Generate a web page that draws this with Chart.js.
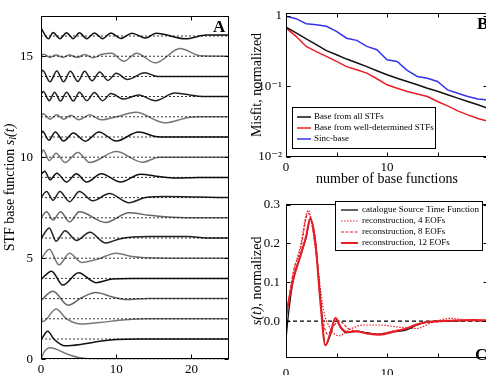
<!DOCTYPE html>
<html>
<head>
<meta charset="utf-8">
<script src="https://cdn.jsdelivr.net/npm/chart.js@4.4.0/dist/chart.umd.min.js"></script>
<style>
  html, body { margin: 0; padding: 0; background: #fff; overflow: hidden; }
  #wrap { position: relative; width: 486px; height: 375px; overflow: hidden; }
  canvas { position: absolute; }
</style>
</head>
<body>
<div id="wrap">
  <canvas id="chartA" width="240" height="375" style="left:0;top:0"></canvas>
  <canvas id="chartB" width="260" height="190" style="left:245px;top:0"></canvas>
  <canvas id="chartC" width="260" height="185" style="left:245px;top:190px"></canvas>
</div>
<script>
// ---- panel A: STF base functions, [time, amplitude] read at the turning points
const stf0 = [[0, 0], [0.4, 0.35], [1.2, 0.57], [2, 0.5], [3, 0.33], [4, 0.18], [5, 0.08], [6, 0.03], [7, 0.01], [8, 0], [25, 0]];
const stf1 = [[0, -0.05], [0.9, 0.38], [1.7, 0], [3.2, -0.34], [5.6, -0.25], [7.8, -0.11], [10, -0.03], [13, 0], [25, 0]];
const stf2 = [[0, -0.05], [0.3, -0.13], [2.0, 0.49], [3.4, 0], [5.4, -0.26], [7.8, -0.18], [11.3, -0.05], [14.3, 0], [25, 0]];
const stf3 = [[0, -0.08], [1.6, 0.36], [3.6, -0.33], [5.4, 0.05], [7.3, 0.3], [9.5, 0.08], [11.3, -0.05], [14.3, 0], [25, 0]];
const stf4 = [[0, -0.05], [1.4, 0.36], [2.9, -0.33], [5.0, 0.28], [7.3, -0.21], [9.5, -0.03], [12, 0], [25, 0]];
const stf5 = [[0, -0.05], [1.1, 0.44], [2.4, -0.33], [3.8, 0.25], [5.4, -0.21], [7.5, -0.05], [10, 0.25], [12.1, 0.08], [14.3, 0.02], [17, 0], [25, 0]];
const stf6 = [[0, -0.05], [1.1, 0.5], [2.0, -0.16], [3.2, 0.36], [4.7, -0.12], [6.5, 0.28], [8.6, -0.25], [10.4, -0.05], [14.3, 0.07], [19.6, 0.07], [22, 0], [25, 0]];
const stf7 = [[0, 0], [0.75, 0.3], [1.6, -0.11], [2.6, 0.3], [3.8, -0.2], [5.1, 0.3], [8.6, -0.23], [11.7, 0.25], [14.3, 0.13], [16.5, 0.05], [20, 0], [25, 0]];
const stf8 = [[0, 0], [0.75, 0.3], [1.6, -0.13], [2.5, 0.3], [3.8, -0.2], [5.1, 0.3], [6.9, -0.16], [9.1, 0.2], [11.7, -0.25], [13.9, 0], [16.5, 0.05], [21, 0.03], [25, 0]];
const stf9 = [[0, 0.15], [0.5, 0.3], [1.2, -0.12], [2.1, 0.21], [3.4, -0.23], [4.7, 0.18], [6.1, -0.23], [8.0, 0.18], [10.6, -0.23], [13.2, 0.16], [15.7, 0.04], [17.9, -0.03], [21, 0], [25, 0]];
const stf10 = [[0, 0.1], [0.3, 0.36], [1.1, -0.16], [2.0, 0.2], [3.2, -0.26], [4.9, 0.23], [6.5, -0.26], [10, 0.28], [13.5, -0.25], [15.7, 0], [25, 0]];
const stf11 = [[0, 0.1], [0.2, 0.28], [1.05, -0.16], [1.9, 0.25], [3.0, -0.2], [4.3, 0.2], [5.9, -0.21], [7.7, 0.25], [10, -0.2], [13, 0.25], [15.2, 0.03], [17, 0], [25, 0]];
const stf12 = [[0, 0.05], [0.3, 0.15], [1.2, -0.12], [2.1, 0.1], [3.0, -0.12], [4.0, 0.08], [5.0, -0.15], [6.5, 0.1], [8.0, -0.15], [10, 0], [12.6, 0.22], [16.5, -0.3], [19.6, -0.03], [21, 0], [25, 0]];
const stf13 = [[0, 0.1], [0.3, 0.25], [1.1, -0.2], [1.8, 0.22], [2.6, -0.22], [3.4, 0.22], [4.3, -0.22], [5.1, 0.22], [6.1, -0.2], [7.1, 0.2], [8.2, -0.2], [9.3, 0.15], [11, -0.12], [13, 0.08], [15.2, -0.2], [17.8, 0.18], [21, 0.02], [25, 0]];
const stf14 = [[0, 0.1], [0.2, 0.3], [1.2, -0.27], [2.1, 0.27], [3.0, -0.27], [3.9, 0.25], [4.9, -0.25], [5.8, 0.25], [6.8, -0.22], [7.8, 0.22], [8.9, -0.2], [10, 0.15], [11.5, -0.15], [13.8, 0.18], [15.5, 0], [25, 0]];
const stf15 = [[0, 0.05], [0.4, 0.1], [1.2, -0.06], [2.0, 0.06], [2.9, -0.06], [3.8, 0.06], [4.8, -0.06], [5.8, 0.08], [6.9, -0.08], [8.0, 0.08], [9.4, 0.15], [11, -0.25], [12.7, 0.15], [15.2, -0.33], [18.5, 0.38], [21.2, 0.02], [25, 0]];
const stf16 = [[0, 0.4], [1.0, -0.13], [1.6, 0.17], [2.5, -0.13], [3.4, 0.16], [4.3, -0.13], [5.1, 0.16], [6.1, -0.13], [7.1, 0.15], [8.2, -0.13], [9.3, 0.15], [10.6, -0.12], [12.1, 0.14], [13.9, -0.1], [15.3, 0.14], [19.2, -0.14], [22, 0.05], [25, 0.05]];
const stfCurves = [stf0, stf1, stf2, stf3, stf4, stf5, stf6, stf7, stf8, stf9, stf10, stf11, stf12, stf13, stf14, stf15, stf16];
const timeRangeA = [0, 25];
const xTicksA = [0, 10, 20];
const yTicksA = [0, 5, 10, 15];

// ---- panel B: misfit vs number of base functions
const nBase = [0, 1, 2, 3, 4, 5, 6, 7, 8, 9, 10, 11, 12, 13, 14, 15, 16, 17, 18, 19, 20];
const misfitAll = [0.69, 0.57, 0.47, 0.39, 0.32, 0.28, 0.243, 0.215, 0.19, 0.166, 0.146, 0.13, 0.117, 0.105, 0.094, 0.085, 0.076, 0.068, 0.061, 0.055, 0.049];
const misfitWell = [0.67, 0.51, 0.367, 0.31, 0.265, 0.225, 0.19, 0.172, 0.154, 0.128, 0.105, 0.094, 0.0845, 0.078, 0.0718, 0.061, 0.053, 0.045, 0.0394, 0.035, 0.032];
const misfitSinc = [0.98, 0.906, 0.77, 0.745, 0.706, 0.6, 0.48, 0.447, 0.367, 0.33, 0.238, 0.225, 0.168, 0.138, 0.13, 0.117, 0.089, 0.08, 0.072, 0.066, 0.064];
const xTicksB = [0, 5, 10, 15, 20];
const xLabelsB = ['0', '', '10', '', ''];
const yTicksB = [0.01, 0.1, 1];
const yLabelsB = ['10\u207B\u00B2', '10\u207B\u00B9', '1'];

// ---- panel C: source time function and its reconstructions, [time, s(t)]
const catalogueStf = [[0, -0.047], [0.25, 0.02], [0.75, 0.11], [1.4, 0.167], [2.0, 0.215], [2.4, 0.262], [2.9, 0.208], [3.4, 0.06], [3.9, -0.063], [4.4, -0.035], [4.9, 0.007], [5.4, -0.017], [6.0, -0.03], [7.0, -0.026], [8.0, -0.03], [9.3, -0.034], [10.7, -0.027], [11.5, -0.025], [12, -0.022], [13, -0.01], [14, -0.002], [16, 0], [18.6, 0.002], [20, 0]];
const recon4 = [[0, 0.008], [0.75, 0.125], [1.4, 0.19], [2.2, 0.285], [3.0, 0.17], [3.7, 0.03], [4.3, -0.015], [5.2, -0.038], [6.4, -0.02], [7.7, -0.01], [9.3, -0.01], [11, -0.015], [12.9, -0.019], [14.6, -0.002], [16.3, 0.007], [18.6, 0], [20, 0.002]];
const recon8 = [[0, 0.005], [0.75, 0.13], [1.4, 0.18], [2.2, 0.278], [3.0, 0.17], [3.5, 0.03], [4.1, -0.033], [4.8, -0.01], [5.3, 0], [6.2, -0.02], [7.5, -0.028], [9, -0.033], [10.7, -0.025], [12, -0.018], [13.5, -0.006], [15, -0.002], [17, 0.002], [20, 0.001]];
const recon12 = [[0, 0.015], [0.25, 0.05], [0.75, 0.11], [1.4, 0.165], [2.0, 0.22], [2.4, 0.265], [2.9, 0.205], [3.4, 0.05], [3.9, -0.062], [4.4, -0.03], [4.9, 0.008], [5.4, -0.015], [6.0, -0.028], [7.0, -0.027], [8.0, -0.032], [9.3, -0.035], [10.7, -0.027], [12, -0.018], [13, -0.008], [14, -0.002], [16, 0.001], [18.6, 0.003], [20, 0.002]];
const timeRangeC = [0, 20];
const xTicksC = [0, 5, 10, 15, 20];
const xLabelsC = ['0', '', '10', '', ''];
const yTicksC = [0, 0.1, 0.2, 0.3];

const SERIF = '"Liberation Serif", "DejaVu Serif", serif';
const RED = 'rgb(236, 28, 36)';
const BLUE = 'rgb(52, 52, 238)';
const stfShade = ['#777', '#111', '#777', '#666', '#111', '#777', '#222', '#666', '#222', '#111', '#777', '#111', '#777', '#222', '#222', '#777', '#111'];

const toXY = (pairs, shift = 0) => pairs.map(([t, v]) => ({ x: t, y: shift + v }));
const setTicks = vals => scale => { scale.ticks = vals.map(v => ({ value: v })); };

// frame, inward ticks, panel letter, rotated y title and boxed legend
const framePlugin = {
  id: 'frame',
  afterDatasetsDraw(chart, args, opts) {
    const { ctx, chartArea: a, scales: { x, y } } = chart;
    ctx.save();
    ctx.strokeStyle = '#000';
    ctx.lineWidth = 1;
    ctx.setLineDash([]);
    const L = Math.round(a.left) + 0.5, T = Math.round(a.top) + 0.5;
    const R = Math.round(a.right) - 0.5, B = Math.round(a.bottom) - 0.5;
    ctx.strokeRect(L, T, R - L, B - T);
    const len = 4;
    ctx.beginPath();
    x.ticks.forEach(t => {
      const px = Math.round(x.getPixelForValue(t.value)) + 0.5;
      ctx.moveTo(px, B); ctx.lineTo(px, B - len);
      ctx.moveTo(px, T); ctx.lineTo(px, T + len);
    });
    y.ticks.forEach(t => {
      const py = Math.round(y.getPixelForValue(t.value)) + 0.5;
      ctx.moveTo(L, py); ctx.lineTo(L + len, py);
      ctx.moveTo(R, py); ctx.lineTo(R - len, py);
    });
    ctx.stroke();

    if (opts.legend) {
      const lg = opts.legend;
      ctx.fillStyle = '#fff';
      ctx.fillRect(lg.x, lg.y, lg.w, lg.h);
      ctx.strokeRect(lg.x + 0.5, lg.y + 0.5, lg.w, lg.h);
      ctx.font = '9px ' + SERIF;
      ctx.textBaseline = 'middle';
      ctx.textAlign = 'left';
      chart.data.datasets.filter(d => d.label).forEach((d, i) => {
        const yy = lg.y + lg.row0 + i * lg.rowH;
        ctx.strokeStyle = d.borderColor;
        ctx.lineWidth = d.borderWidth;
        ctx.setLineDash(d.borderDash || []);
        ctx.beginPath();
        ctx.moveTo(lg.x + lg.line0, yy);
        ctx.lineTo(lg.x + lg.line1, yy);
        ctx.stroke();
        ctx.fillStyle = '#000';
        ctx.fillText(d.label, lg.x + lg.text, yy);
      });
      ctx.setLineDash([]);
    }

    if (opts.letter) {
      ctx.fillStyle = '#000';
      ctx.font = 'bold 17px ' + SERIF;
      ctx.textAlign = 'left';
      ctx.textBaseline = 'alphabetic';
      ctx.fillText(opts.letter.text, a.right + opts.letter.dx, a.top + opts.letter.dy);
    }

    if (opts.yTitle) {
      const cy = (a.top + a.bottom) / 2;
      ctx.translate(opts.yTitle.x, cy);
      ctx.rotate(-Math.PI / 2);
      ctx.textBaseline = 'middle';
      ctx.textAlign = 'left';
      ctx.fillStyle = '#000';
      let total = 0;
      opts.yTitle.parts.forEach(p => { ctx.font = p.font; total += ctx.measureText(p.text).width; });
      let xx = -total / 2;
      opts.yTitle.parts.forEach(p => {
        ctx.font = p.font;
        ctx.fillText(p.text, xx, p.dy || 0);
        xx += ctx.measureText(p.text).width;
      });
    }
    ctx.restore();
  }
};

const tickFont = { family: SERIF, size: 13 };
const baseOptions = {
  responsive: false,
  animation: false,
  events: [],
  plugins: { legend: { display: false }, tooltip: { enabled: false } },
  elements: { point: { radius: 0 }, line: { tension: 0 } }
};
const plainGrid = { display: false, drawTicks: false };

// ---- panel A
const datasetsA = [];
stfCurves.forEach((c, k) => {
  datasetsA.push({
    data: timeRangeA.map(t => ({ x: t, y: k })),
    borderColor: '#000', borderWidth: 0.8, borderDash: [2, 2]
  });
  datasetsA.push({
    data: toXY(c, k),
    borderColor: stfShade[k], borderWidth: 1.5, cubicInterpolationMode: 'monotone'
  });
});

new Chart(document.getElementById('chartA'), {
  type: 'line',
  data: { datasets: datasetsA },
  options: {
    ...baseOptions,
    layout: { padding: { top: 10, right: 11, left: 0, bottom: 0 } },
    scales: {
      x: {
        type: 'linear', min: timeRangeA[0], max: timeRangeA[1],
        grid: plainGrid, border: { display: false },
        ticks: { font: tickFont, color: '#000', padding: 3, maxRotation: 0 },
        afterBuildTicks: setTicks(xTicksA),
        afterFit(s) { s.height = 15; }
      },
      y: {
        min: 0, max: 17,
        grid: plainGrid, border: { display: false },
        ticks: { font: tickFont, color: '#000', padding: 8 },
        afterBuildTicks: setTicks(yTicksA),
        afterFit(s) { s.width = 41; }
      }
    },
    plugins: {
      ...baseOptions.plugins,
      frame: {
        letter: { text: 'A', dx: -16, dy: 16 },
        yTitle: {
          x: 10,
          parts: [
            { text: 'STF base function ', font: '14px ' + SERIF },
            { text: 's', font: 'italic 14px ' + SERIF },
            { text: 'l', font: 'italic 10px ' + SERIF, dy: 3 },
            { text: '(t)', font: 'italic 14px ' + SERIF }
          ]
        }
      }
    }
  },
  plugins: [framePlugin]
});

// ---- panel B
new Chart(document.getElementById('chartB'), {
  type: 'line',
  data: {
    datasets: [
      { label: 'Base from all STFs', data: nBase.map((n, i) => ({ x: n, y: misfitAll[i] })), borderColor: '#111', borderWidth: 1.5 },
      { label: 'Base from well-determined STFs', data: nBase.map((n, i) => ({ x: n, y: misfitWell[i] })), borderColor: RED, borderWidth: 1.5 },
      { label: 'Sinc-base', data: nBase.map((n, i) => ({ x: n, y: misfitSinc[i] })), borderColor: BLUE, borderWidth: 1.5 }
    ]
  },
  options: {
    ...baseOptions,
    layout: { padding: { top: 13, right: 17, left: 0, bottom: 0 } },
    scales: {
      x: {
        type: 'linear', min: 0, max: 20,
        grid: plainGrid, border: { display: false },
        ticks: { font: tickFont, color: '#000', padding: 3, maxRotation: 0,
          callback: v => xLabelsB[xTicksB.indexOf(v)] },
        afterBuildTicks: setTicks(xTicksB),
        title: { display: true, text: 'number of base functions', color: '#000',
          font: { family: SERIF, size: 14 }, padding: { top: 0, bottom: 2 } },
        afterFit(s) { s.height = 33; }
      },
      y: {
        type: 'logarithmic', min: 0.01, max: 1.09,
        grid: plainGrid, border: { display: false },
        ticks: { font: tickFont, color: '#000', padding: 4,
          callback: v => yLabelsB[yTicksB.indexOf(v)] },
        afterBuildTicks: setTicks(yTicksB),
        afterFit(s) { s.width = 41; }
      }
    },
    plugins: {
      ...baseOptions.plugins,
      frame: {
        letter: { text: 'B', dx: -11, dy: 16 },
        legend: { x: 47, y: 107, w: 143, h: 41, row0: 10, rowH: 11, line0: 5, line1: 19, text: 22 },
        yTitle: { x: 12, parts: [{ text: 'Misfit, normalized', font: '14px ' + SERIF }] }
      }
    }
  },
  plugins: [framePlugin]
});

// ---- panel C
new Chart(document.getElementById('chartC'), {
  type: 'line',
  data: {
    datasets: [
      { label: 'catalogue Source Time Function', data: toXY(catalogueStf), borderColor: '#111', borderWidth: 1.3, order: 2, cubicInterpolationMode: 'monotone' },
      { label: 'reconstruction, 4 EOFs', data: toXY(recon4), borderColor: RED, borderWidth: 1.2, borderDash: [1.5, 1.5], order: 4, cubicInterpolationMode: 'monotone' },
      { label: 'reconstruction, 8 EOFs', data: toXY(recon8), borderColor: RED, borderWidth: 1.2, borderDash: [3, 1.5], order: 3, cubicInterpolationMode: 'monotone' },
      { label: 'reconstruction, 12 EOFs', data: toXY(recon12), borderColor: RED, borderWidth: 2, order: 1, cubicInterpolationMode: 'monotone' },
      { data: timeRangeC.map(t => ({ x: t, y: 0 })), borderColor: '#000', borderWidth: 1.2, borderDash: [4, 3], order: 5 }
    ]
  },
  options: {
    ...baseOptions,
    layout: { padding: { top: 7, right: 17, left: 0, bottom: 0 } },
    scales: {
      x: {
        type: 'linear', min: timeRangeC[0], max: timeRangeC[1],
        grid: plainGrid, border: { display: false },
        ticks: { font: tickFont, color: '#000', padding: 8, maxRotation: 0,
          callback: v => xLabelsC[xTicksC.indexOf(v)] },
        afterBuildTicks: setTicks(xTicksC),
        afterFit(s) { s.height = 17; }
      },
      y: {
        min: -0.095, max: 0.302,
        grid: plainGrid, border: { display: false },
        ticks: { font: tickFont, color: '#000', padding: 6, callback: v => v.toFixed(1) },
        afterBuildTicks: setTicks(yTicksC),
        afterFit(s) { s.width = 41; }
      }
    },
    plugins: {
      ...baseOptions.plugins,
      frame: {
        letter: { text: 'C', dx: -13, dy: 156 },
        legend: { x: 90, y: 11, w: 147, h: 49, row0: 9, rowH: 11, line0: 6, line1: 23, text: 27 },
        yTitle: {
          x: 12,
          parts: [
            { text: 's(t)', font: 'italic 14px ' + SERIF },
            { text: ', normalized', font: '14px ' + SERIF }
          ]
        }
      }
    }
  },
  plugins: [framePlugin]
});
</script>
</body>
</html>
